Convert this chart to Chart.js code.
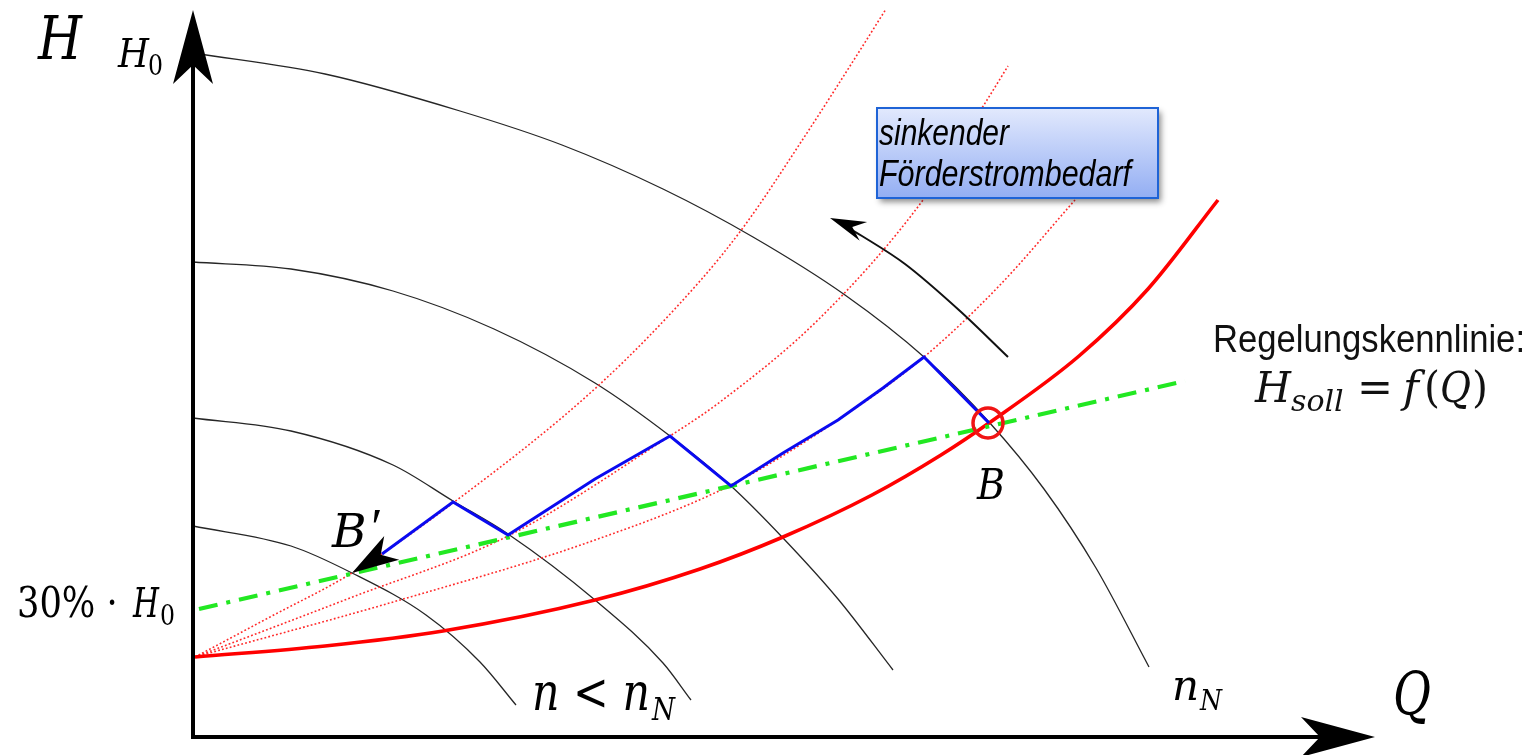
<!DOCTYPE html>
<html>
<head>
<meta charset="utf-8">
<script src="https://cdn.jsdelivr.net/npm/chart.js@4.4.1/dist/chart.umd.min.js"></script>
<style>
html, body { margin: 0; padding: 0; background: #fff; overflow: hidden; }
#wrap { width: 1536px; height: 755px; }
</style>
</head>
<body>
<div id="wrap"><canvas id="kennfeld" width="1536" height="755"></canvas></div>
<script>
// Achsenbereich (Ursprung = Achsenkreuz, freie Einheiten)
const Q_MAX = 1343;
const H_MAX = 737;

// Pumpenkennlinien: Nenndrehzahl n_N und drei kleinere Drehzahlen
const pumpNN_Q = [0, 132, 267, 369, 470, 560, 652, 731, 796, 851, 903, 956];
const pumpNN_H = [684, 663, 626, 592, 548, 500, 442, 380, 315, 248, 169, 70];
const pump2_Q = [0, 98, 200, 301, 402, 477, 538, 590, 645, 700];
const pump2_H = [475, 468, 446, 408, 354, 301, 251, 199, 138, 67];
const pump3_Q = [0, 98, 200, 260, 315, 402, 470, 498];
const pump3_H = [319, 306, 272, 236, 203, 137, 74, 37];
const pump4_Q = [0, 98, 159, 233, 287, 323];
const pump4_H = [211, 191, 164, 122, 75, 32];

// Anlagenkennlinie (durchgezogen) und gedrosselte Anlagenkennlinien (gepunktet)
const anlage_Q = [2, 132, 250, 402, 507, 590, 679, 748, 796, 886, 955, 1025];
const anlage_H = [80, 91, 106, 137, 168, 200, 242, 282, 314, 381, 448, 537];
const anlageA_Q = [2, 77, 159, 260, 406, 507, 552, 610, 664, 693];
const anlageA_H = [80, 120, 164, 234, 352, 456, 512, 598, 682, 728];
const anlageB_Q = [2, 157, 315, 477, 527, 627, 730, 794, 815];
const anlageB_H = [80, 139, 201, 301, 335, 419, 537, 637, 671];
const anlageC_Q = [2, 207, 402, 538, 645, 731, 807, 882];
const anlageC_H = [80, 137, 197, 252, 317, 380, 452, 537];

// Regelungskennlinie H_soll = f(Q)
const regel_Q = [6, 992];
const regel_H = [128, 356];

// Regelweg von B nach B'
const weg_Q = [796, 731, 690, 645, 590, 538, 477, 402, 315, 260, 189];
const weg_H = [314, 380, 349, 317, 284, 251, 301, 258, 202, 235, 183];
const wegZiel = { x: 159, y: 164 };

// Betriebspunkt B
const punktB = [{ x: 795, y: 314 }];

// gebogener Pfeil "sinkender Förderstrombedarf"
const bogen_Q = [815, 767, 712, 669, 642];
const bogen_H = [380, 426, 473, 501, 517];
const bogenZiel = { x: 637, y: 519 };

const toPts = (qs, hs) => qs.map((q, i) => ({ x: q, y: hs[i] }));

function kurve(qs, hs, color, width, dash, smooth) {
    return {
        data: toPts(qs, hs),
        showLine: true,
        borderColor: color,
        borderWidth: width,
        borderDash: dash || [],
        pointRadius: 0,
        fill: false,
        clip: false,
        cubicInterpolationMode: smooth ? 'monotone' : 'default',
        tension: 0
    };
}

const datasets = [
    {
        data: punktB,
        showLine: false,
        pointStyle: 'circle',
        pointRadius: 15,
        pointBorderWidth: 3.5,
        pointBorderColor: '#f01414',
        pointBackgroundColor: 'rgba(0,0,0,0)',
        clip: false
    },
    kurve(weg_Q, weg_H, '#0a0af0', 3, null, false),
    kurve(bogen_Q, bogen_H, '#111', 2, null, true),
    kurve(regel_Q, regel_H, '#22e822', 4.2, [19, 9, 4, 9], false),
    kurve(anlage_Q, anlage_H, '#f00', 3.6, null, true),
    kurve(anlageA_Q, anlageA_H, '#ff2a2a', 1.6, [1.8, 2.2], true),
    kurve(anlageB_Q, anlageB_H, '#ff2a2a', 1.6, [1.8, 2.2], true),
    kurve(anlageC_Q, anlageC_H, '#ff2a2a', 1.6, [1.8, 2.2], true),
    kurve(pumpNN_Q, pumpNN_H, '#262626', 1.3, null, true),
    kurve(pump2_Q, pump2_H, '#262626', 1.3, null, true),
    kurve(pump3_Q, pump3_H, '#262626', 1.3, null, true),
    kurve(pump4_Q, pump4_H, '#262626', 1.3, null, true)
];

function pfeilspitze(ctx, tip, from, len, half, notch) {
    const dx = from.x - tip.x, dy = from.y - tip.y;
    const d = Math.hypot(dx, dy);
    const ux = dx / d, uy = dy / d, nx = -uy, ny = ux;
    ctx.beginPath();
    ctx.moveTo(tip.x, tip.y);
    ctx.lineTo(tip.x + ux * len + nx * half, tip.y + uy * len + ny * half);
    ctx.lineTo(tip.x + ux * notch, tip.y + uy * notch);
    ctx.lineTo(tip.x + ux * len - nx * half, tip.y + uy * len - ny * half);
    ctx.closePath();
    ctx.fill();
}

function text(ctx, s, x, y, font, maxW, align) {
    ctx.font = font;
    ctx.textAlign = align || 'left';
    ctx.textBaseline = 'alphabetic';
    if (maxW) ctx.fillText(s, x, y, maxW);
    else ctx.fillText(s, x, y);
}

const MATH = '"DejaVu Serif"';
const SANS = '"Liberation Sans", Arial';

const diagramm = {
    id: 'diagramm',
    beforeDraw(chart) {
        const ctx = chart.ctx;
        ctx.save();
        ctx.fillStyle = '#fff';
        ctx.fillRect(0, 0, chart.width, chart.height);
        ctx.restore();
    },
    afterDatasetsDraw(chart) {
        const ctx = chart.ctx;
        const sx = chart.scales.x, sy = chart.scales.y;
        const px = (q, h) => ({ x: sx.getPixelForValue(q), y: sy.getPixelForValue(h) });
        const o = px(0, 0);

        ctx.save();
        ctx.fillStyle = '#000';
        ctx.strokeStyle = '#000';

        // Pfeilspitzen am Regelweg und am gebogenen Pfeil
        pfeilspitze(ctx, px(wegZiel.x, wegZiel.y), px(weg_Q[weg_Q.length - 1], weg_H[weg_H.length - 1]), 47, 14, 34);
        pfeilspitze(ctx, px(bogenZiel.x, bogenZiel.y), px(bogen_Q[bogen_Q.length - 1], bogen_H[bogen_H.length - 1]), 36, 10, 24);

        // Achsen mit Pfeilen
        const yTip = px(0, 727), xTip = px(1182, 0);
        ctx.lineWidth = 4;
        ctx.beginPath();
        ctx.moveTo(o.x, o.y + 2);
        ctx.lineTo(o.x, yTip.y + 50);
        ctx.moveTo(o.x - 2, o.y);
        ctx.lineTo(xTip.x - 50, o.y);
        ctx.stroke();
        pfeilspitze(ctx, yTip, { x: o.x, y: o.y }, 74, 20, 55);
        pfeilspitze(ctx, xTip, { x: o.x, y: o.y }, 74, 20, 55);

        // Beschriftungen
        let p = px(-155, 678);
        text(ctx, 'H', p.x, p.y, 'italic 59px ' + MATH, 44);
        p = px(-75, 670);
        text(ctx, 'H', p.x, p.y, 'italic 40px ' + MATH, 31);
        p = px(-45, 662);
        text(ctx, '0', p.x, p.y, '27px ' + MATH, 15);

        p = px(-176, 120);
        text(ctx, '30% · ', p.x, p.y, '42px ' + MATH, 112);
        p = px(-60, 120);
        text(ctx, 'H', p.x, p.y, 'italic 41px ' + MATH, 26);
        p = px(-33, 112);
        text(ctx, '0', p.x, p.y, '27px ' + MATH, 15);

        p = px(139, 190);
        text(ctx, 'B', p.x, p.y, 'italic 47px ' + MATH, 36);
        p = px(175, 192);
        text(ctx, '\u2032', p.x, p.y, 'italic 52px "Liberation Serif"', 14);
        p = px(784, 238);
        text(ctx, 'B', p.x, p.y, 'italic 43px ' + MATH, 28);

        p = px(339, 27);
        text(ctx, 'n < n', p.x, p.y, 'italic 52px ' + MATH, 118);
        p = px(459, 17);
        text(ctx, 'N', p.x, p.y, 'italic 31px ' + MATH, 23);

        p = px(979, 37);
        text(ctx, 'n', p.x, p.y, 'italic 42px ' + MATH, 28);
        p = px(1007, 27);
        text(ctx, 'N', p.x, p.y, 'italic 27px ' + MATH, 22);

        p = px(1200, 22);
        text(ctx, 'Q', p.x, p.y, 'italic 59px ' + MATH, 38);

        // Regelungskennlinie mit Formel
        ctx.fillStyle = '#111';
        p = px(1176, 385);
        text(ctx, 'Regelungskennlinie:', p.x, p.y, '38px ' + SANS, 312, 'center');
        const fy = px(0, 335).y;
        const fx = q => px(q, 0).x;
        text(ctx, 'H', fx(1062), fy, 'italic 43px ' + MATH, 36);
        text(ctx, 'soll', fx(1098), fy + 9, 'italic 30px ' + MATH, 55);
        text(ctx, '=', fx(1164), fy, '43px ' + MATH, 37);
        text(ctx, 'f', fx(1210), fy, 'italic 43px ' + MATH, 22);
        text(ctx, '(', fx(1231), fy, '43px ' + MATH, 16);
        text(ctx, 'Q', fx(1247), fy, 'italic 43px ' + MATH, 31);
        text(ctx, ')', fx(1279), fy, '43px ' + MATH, 16);

        // Textfeld "sinkender Förderstrombedarf"
        const b0 = px(684, 629), b1 = px(965, 539);
        const w = b1.x - b0.x, h = b1.y - b0.y;
        const grad = ctx.createLinearGradient(0, b0.y, 0, b1.y);
        grad.addColorStop(0, '#e2e9fd');
        grad.addColorStop(1, '#93aef3');
        ctx.save();
        ctx.shadowColor = 'rgba(0,0,0,0.45)';
        ctx.shadowBlur = 6;
        ctx.shadowOffsetX = 3;
        ctx.shadowOffsetY = 4;
        ctx.fillStyle = grad;
        ctx.fillRect(b0.x, b0.y, w, h);
        ctx.restore();
        ctx.lineWidth = 2;
        ctx.strokeStyle = '#1e63d6';
        ctx.strokeRect(b0.x, b0.y, w, h);
        ctx.fillStyle = '#000';
        text(ctx, 'sinkender', b0.x + 2, b0.y + 37, 'italic 36px ' + SANS, 130);
        text(ctx, 'Förderstrombedarf', b0.x + 2, b0.y + 78, 'italic 36px ' + SANS, 252);

        ctx.restore();
    }
};

new Chart(document.getElementById('kennfeld'), {
    type: 'scatter',
    data: { datasets: datasets },
    options: {
        responsive: false,
        animation: false,
        events: [],
        devicePixelRatio: 1,
        layout: { autoPadding: false, padding: { left: 193, right: 0, top: 0, bottom: 18 } },
        scales: {
            x: { type: 'linear', min: 0, max: Q_MAX, display: false },
            y: { type: 'linear', min: 0, max: H_MAX, display: false }
        },
        plugins: {
            legend: { display: false },
            tooltip: { enabled: false }
        }
    },
    plugins: [diagramm]
});
</script>
</body>
</html>
